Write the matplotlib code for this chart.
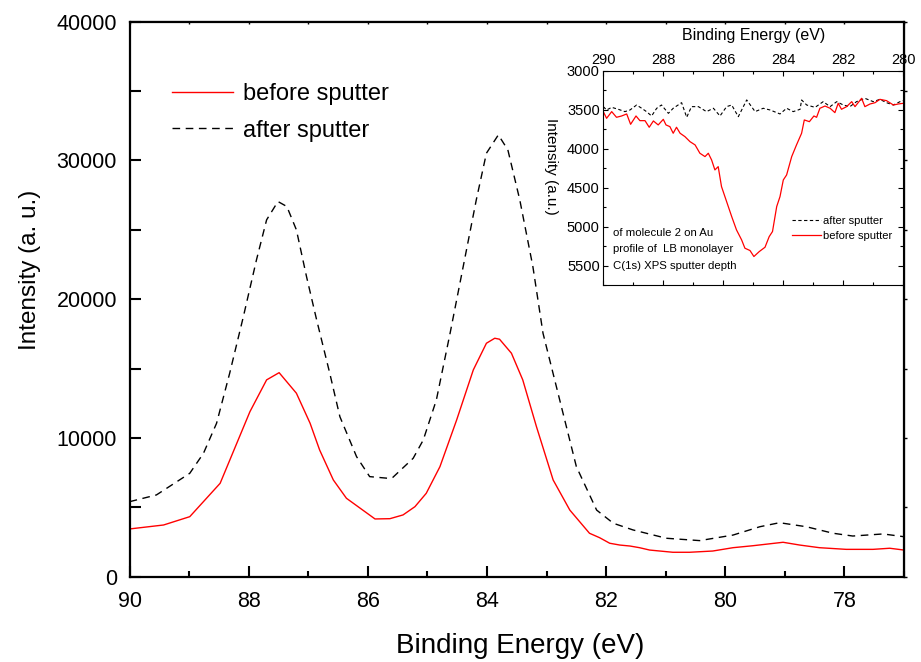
import matplotlib
matplotlib.use("Agg")
import matplotlib.pyplot as plt
from matplotlib.ticker import MultipleLocator, NullFormatter

plt.rcParams['font.family'] = ['Liberation Sans', 'DejaVu Sans']

# ---------------- main chart data (Au 4f region) ----------------
before_E = [90.0, 89.43, 88.99, 88.48, 87.98, 87.70, 87.49, 87.20, 86.97, 86.81,
            86.58, 86.36, 85.88, 85.63, 85.41, 85.21, 85.02, 84.79, 84.51, 84.23,
            84.01, 83.87, 83.79, 83.59, 83.40, 83.17, 82.89, 82.61, 82.28, 82.11,
            81.94, 81.77, 81.60, 81.44, 81.27, 80.88, 80.60, 80.21, 79.87, 79.54,
            79.03, 78.75, 78.42, 77.97, 77.52, 77.24, 77.0]
before_I = [3440, 3725, 4325, 6730, 11890, 14180, 14700, 13220, 11055, 9130,
            6970, 5650, 4160, 4180, 4450, 5045, 6010, 7930, 11290, 14900,
            16820, 17180, 17110, 16100, 14180, 10810, 6970, 4800, 3130, 2810,
            2410, 2280, 2210, 2090, 1920, 1760, 1760, 1850, 2090, 2230,
            2480, 2280, 2090, 1970, 1970, 2050, 1920]

after_E = [90.0, 89.55, 88.99, 88.76, 88.54, 88.32, 88.09, 87.87, 87.70, 87.51,
           87.36, 87.20, 87.03, 86.86, 86.64, 86.47, 86.19, 85.97, 85.66, 85.58,
           85.24, 85.07, 84.85, 84.62, 84.40, 84.18, 84.01, 83.81, 83.65, 83.45,
           83.23, 83.06, 82.78, 82.50, 82.16, 81.88, 81.55, 80.99, 80.43, 79.87,
           79.42, 79.09, 78.64, 78.19, 77.86, 77.35, 77.0]
after_I = [5405, 5890, 7450, 8890, 11055, 14660, 18740, 22830, 25710, 27030,
           26670, 24990, 21620, 18500, 14660, 11530, 8650, 7210, 7090, 7160,
           8530, 9850, 12740, 17540, 22340, 27150, 30510, 31830, 30750, 27150,
           22340, 17540, 12740, 7930, 4800, 3850, 3370, 2770, 2600, 3000,
           3600, 3890, 3600, 3130, 2930, 3080, 2880]

main_labels = ["before sputter", "after sputter"]

# ---------------- inset data (C 1s region) ----------------
in_before_E = [290.0, 289.89, 289.72, 289.56, 289.39, 289.22, 289.09, 288.91, 288.78, 288.61,
               288.47, 288.33, 288.17, 288.0, 287.91, 287.78, 287.67, 287.56, 287.44, 287.28,
               287.11, 286.94, 286.78, 286.61, 286.50, 286.39, 286.28, 286.17, 286.06, 285.89,
               285.72, 285.56, 285.39, 285.28, 285.11, 284.98, 284.80, 284.61, 284.47, 284.36,
               284.22, 284.11, 284.0, 283.89, 283.72, 283.56, 283.39, 283.30, 283.13, 282.98,
               282.89, 282.78, 282.61, 282.44, 282.28, 282.17, 282.06, 281.89, 281.72, 281.61,
               281.39, 281.28, 281.11, 280.94, 280.78, 280.56, 280.33, 280.17, 280.0]
in_before_I = [3522, 3608, 3522, 3595, 3578, 3552, 3685, 3578, 3638, 3638,
               3723, 3642, 3693, 3621, 3693, 3715, 3800, 3723, 3800, 3843,
               3908, 3950, 4057, 4100, 4057, 4143, 4271, 4229, 4485, 4678,
               4871, 5042, 5170, 5277, 5307, 5384, 5320, 5265, 5128, 5063,
               4742, 4614, 4400, 4336, 4100, 3950, 3800, 3629, 3651, 3578,
               3595, 3479, 3450, 3479, 3535, 3415, 3492, 3458, 3394, 3458,
               3351, 3458, 3424, 3407, 3364, 3381, 3437, 3424, 3415]

in_after_E = [290.0, 289.89, 289.72, 289.5, 289.28, 289.11, 288.89, 288.72, 288.56, 288.39,
              288.22, 288.06, 287.83, 287.67, 287.39, 287.22, 287.06, 286.83, 286.56, 286.33,
              286.11, 285.89, 285.72, 285.5, 285.22, 284.94, 284.67, 284.44, 284.11, 283.89,
              283.67, 283.44, 283.39, 283.22, 282.94, 282.67, 282.44, 282.22, 282.0, 281.78,
              281.56, 281.28, 281.0, 280.78, 280.56, 280.33, 280.11, 280.0]
in_after_I = [3458, 3501, 3467, 3492, 3522, 3501, 3437, 3479, 3522, 3578,
              3479, 3437, 3544, 3479, 3407, 3595, 3458, 3458, 3522, 3479,
              3578, 3458, 3437, 3587, 3372, 3522, 3479, 3501, 3552, 3479,
              3522, 3492, 3372, 3437, 3467, 3394, 3458, 3394, 3437, 3458,
              3394, 3351, 3394, 3364, 3407, 3437, 3394, 3381]

inset_yticks = [3000, 3500, 4000, 4500, 5000, 5500]
inset_xticks = [290, 288, 286, 284, 282, 280]
inset_note = ["of molecule 2 on Au", "profile of  LB monolayer", "C(1s) XPS sputter depth"]

W, H = 921, 662
fig = plt.figure(figsize=(W / 100, H / 100), dpi=100)

# ---------------- main axes ----------------
L, R, T, B = 129.6, 904.0, 21.5, 576.7
ax = fig.add_axes([L / W, 1 - B / H, (R - L) / W, (B - T) / H])
ax.plot(before_E, before_I, color='#ff0000', lw=1.0, label=main_labels[0])
ax.plot(after_E, after_I, color='black', lw=1.0, ls=(0, (5.5, 4)), label=main_labels[1])
ax.set_xlim(90, 77)
ax.set_ylim(0, 40000)
ax.xaxis.set_major_locator(MultipleLocator(2))
ax.xaxis.set_minor_locator(MultipleLocator(1))
ax.yaxis.set_major_locator(MultipleLocator(10000))
ax.yaxis.set_minor_locator(MultipleLocator(5000))
ax.tick_params(axis='both', which='major', direction='in', length=8, width=1.5,
               labelsize=15.5, top=False, right=False)
ax.tick_params(axis='x', which='minor', direction='in', length=4.5, width=1.5, top=False)
ax.tick_params(axis='y', which='minor', direction='in', length=8, width=1.5, right=False)
ax.tick_params(axis='x', which='major', pad=10)
ax.tick_params(axis='y', which='major', pad=9)
for s in ax.spines.values():
    s.set_linewidth(1.6)

sx = ax.secondary_xaxis('top')
sx.xaxis.set_major_locator(MultipleLocator(1))
sx.xaxis.set_major_formatter(NullFormatter())
sx.tick_params(direction='in', length=2.5, width=1.0)
sy = ax.secondary_yaxis('right')
sy.yaxis.set_major_locator(MultipleLocator(5000))
sy.yaxis.set_major_formatter(NullFormatter())
sy.tick_params(direction='out', length=2.5, width=1.0)

ax.set_xlabel("Binding Energy (eV)", fontsize=20)
ax.xaxis.set_label_coords(0.504, -0.101)
ax.set_ylabel("Intensity (a. u.)", fontsize=17.5)
ax.yaxis.set_label_coords(-0.115, 0.552)

ax.legend(loc='upper left', bbox_to_anchor=(172 / W, 1 - 83 / H),
          bbox_transform=fig.transFigure, frameon=False, fontsize=17,
          handlelength=2.6, handletextpad=0.4, labelspacing=0.62,
          borderpad=0, borderaxespad=0)

# ---------------- inset axes ----------------
iL, iR, iT, iB = 603.3, 903.3, 71.0, 285.0
axi = fig.add_axes([iL / W, 1 - iB / H, (iR - iL) / W, (iB - iT) / H])
axi.plot(in_after_E, in_after_I, color='black', lw=0.8, ls=(0, (3, 2.2)), label='after sputter')
axi.plot(in_before_E, in_before_I, color='#ff0000', lw=0.9, label='before sputter')
axi.set_xlim(290, 280)
axi.set_ylim(5750, 3000)
axi.set_xticks(inset_xticks)
axi.xaxis.set_minor_locator(MultipleLocator(1))
axi.set_yticks(inset_yticks)
axi.yaxis.set_minor_locator(MultipleLocator(250))
axi.xaxis.tick_top()
axi.tick_params(axis='both', which='both', direction='in', top=True, bottom=True,
                left=True, right=True, labelsize=10.5, width=0.8)
axi.tick_params(axis='both', which='major', length=3.5)
axi.tick_params(axis='both', which='minor', length=2.5)
axi.tick_params(axis='x', pad=3)
axi.tick_params(axis='y', pad=2.5)
for s in axi.spines.values():
    s.set_linewidth(0.8)

axi.set_xlabel("Binding Energy (eV)", fontsize=11.5, va='center')
axi.xaxis.set_label_position('top')
axi.xaxis.set_label_coords(0.5, 1 + (iT - 40) / (iB - iT))
axi.set_ylabel("Intensity (a.u.)", fontsize=11, rotation=-90, va='center', ha='center')
axi.yaxis.set_label_coords((551 - iL) / (iR - iL), (iB - 166.7) / (iB - iT))

note_y = [233, 249, 265.7]
for txt, yy in zip(inset_note, note_y):
    axi.text((612.7 - iL) / (iR - iL), (iB - yy) / (iB - iT), txt,
             transform=axi.transAxes, fontsize=8.2, ha='left', va='center')

axi.legend(loc='center left', bbox_to_anchor=((789 - iL) / (iR - iL), (iB - 228.5) / (iB - iT)),
           frameon=True, facecolor='white', edgecolor='none', framealpha=1.0,
           fontsize=8, handlelength=2.6, handletextpad=0.15, labelspacing=0.5,
           borderpad=0.3, borderaxespad=0, fancybox=False)

fig.savefig("out.png", dpi=100)
